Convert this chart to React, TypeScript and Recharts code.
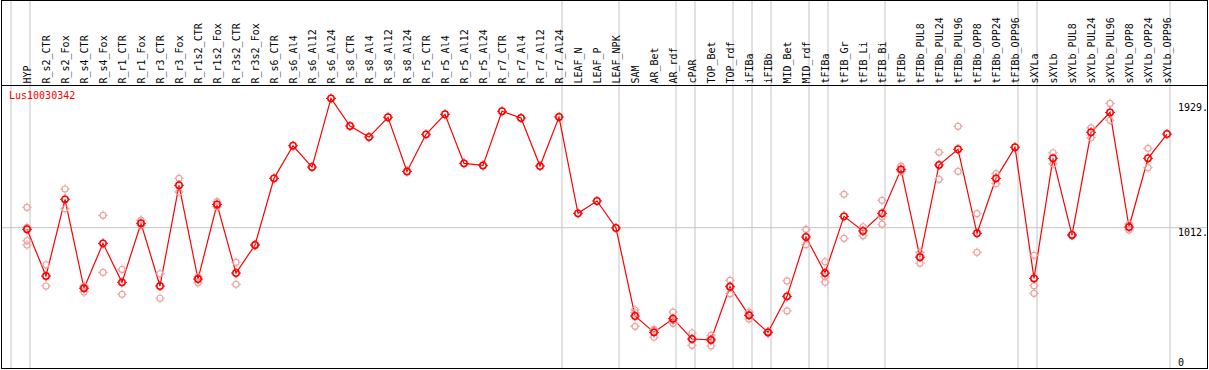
import React from 'react';
import {
  ComposedChart,
  Line,
  Scatter,
  XAxis,
  YAxis,
  ReferenceLine,
} from 'recharts';

document.body.style.margin = '0';

const title = 'Lus10030342';

const categories = [
  'HYP',
  'R_s2_CTR', 'R_s2_Fox', 'R_s4_CTR', 'R_s4_Fox', 'R_r1_CTR', 'R_r1_Fox', 'R_r3_CTR', 'R_r3_Fox',
  'R_r1s2_CTR', 'R_r1s2_Fox', 'R_r3s2_CTR', 'R_r3s2_Fox',
  'R_s6_CTR', 'R_s6_Al4', 'R_s6_Al12', 'R_s6_Al24',
  'R_s8_CTR', 'R_s8_Al4', 'R_s8_Al12', 'R_s8_Al24',
  'R_r5_CTR', 'R_r5_Al4', 'R_r5_Al12', 'R_r5_Al24',
  'R_r7_CTR', 'R_r7_Al4', 'R_r7_Al12', 'R_r7_Al24',
  'LEAF_N', 'LEAF_P', 'LEAF_NPK',
  'SAM', 'AR_Bet', 'AR_rdf',
  'cPAR',
  'TOP_Bet', 'TOP_rdf',
  'iFIBa',
  'iFIBb',
  'MID_Bet', 'MID_rdf',
  'tFIBa',
  'tFIB_Gr', 'tFIB_Li', 'tFIB_Bi',
  'tFIBb', 'tFIBb_PUL8', 'tFIBb_PUL24', 'tFIBb_PUL96', 'tFIBb_OPP8', 'tFIBb_OPP24', 'tFIBb_OPP96',
  'sXYLa',
  'sXYLb', 'sXYLb_PUL8', 'sXYLb_PUL24', 'sXYLb_PUL96', 'sXYLb_OPP8', 'sXYLb_OPP24', 'sXYLb_OPP96',
];

// last category of each sample group (a grey separator follows it)
const groupEnds = [
  'HYP', 'R_r7_Al24', 'LEAF_NPK', 'AR_rdf', 'cPAR', 'TOP_rdf', 'iFIBa', 'iFIBb',
  'MID_rdf', 'tFIBa', 'tFIB_Bi', 'tFIBb_OPP96', 'sXYLa', 'sXYLb_OPP96',
];

const meanValues = [
  1000,
  657, 1220, 567, 897, 611, 1044, 584, 1323,
  635, 1183, 679, 885,
  1374, 1613, 1457, 1961,
  1758, 1677, 1822, 1425,
  1697, 1844, 1484, 1469,
  1866, 1817, 1464, 1824,
  1117, 1208, 1010,
  364, 244, 344,
  195,
  188, 579,
  369,
  244,
  508, 944,
  679,
  1095, 988, 1117,
  1440, 795, 1472, 1587, 971, 1374, 1602,
  640,
  1521, 958, 1712, 1858, 1017, 1521, 1699,
];

const replicates: number[][] = [
  [1161, 1015, 916, 885],
  [740, 584], [1296, 1151], [584, 575, 540], [1103, 684], [706, 523], [1068, 1031], [674, 494], [1374, 1274],
  [652, 608], [1203, 1166], [758, 596], [890, 880],
  [], [], [], [],
  [], [], [], [],
  [], [], [], [],
  [], [], [], [],
  [], [], [],
  [408, 388, 288], [266, 258, 208], [393, 330, 310],
  [239, 149],
  [222, 198, 144], [626, 583, 528],
  [393, 372, 342],
  [250, 238],
  [621, 401], [1000, 887],
  [762, 652, 611],
  [1257, 934], [1019, 953], [1213, 1092, 1037],
  [1464, 1433, 1423], [831, 803, 751], [1565, 1367], [1756, 1425], [1115, 831], [1408, 1335], [],
  [809, 586, 530],
  [1562, 1479], [962, 954], [1745, 1672], [1924, 1800], [1039, 995], [1594, 1452], [],
];

const yTicks = [0, 1012, 1929];

const WIDTH = 1209;
const HEIGHT = 370;
const STEP = 19; // px per category
const LINE_OFFSET = 3 / STEP;
const LABEL_X = 1178;
const MONO = '"DejaVu Sans Mono", monospace';
const RED = '#ff0000';
const PINK = '#eda3a3';
const GRID = '#c4c4c4';

const rows = categories.map((name, i) => ({ idx: i, name, mean: meanValues[i] }));
const repPoints = replicates.flatMap((vals, i) => vals.map((v) => ({ idx: i, v })));
const separators = [-1, ...groupEnds.map((n) => categories.indexOf(n))].map((i) => i + LINE_OFFSET);

function Gear({ cx, cy, color, r, w }: { cx: number; cy: number; color: string; r: number; w: number }) {
  if (cx == null || cy == null || Number.isNaN(cy)) return <g />;
  const t = r + 1.8;
  const d = `M${cx} ${cy - t}V${cy - r}M${cx} ${cy + r}V${cy + t}M${cx - t} ${cy}H${cx - r}M${cx + r} ${cy}H${cx + t}`;
  return (
    <g>
      <circle cx={cx} cy={cy} r={r} fill="none" stroke={color} strokeWidth={w} />
      <path d={d} stroke={color} strokeWidth={1} />
    </g>
  );
}

const XTick = (p: any) => {
  const name = categories[p.payload.value];
  const y = 83.5;
  return (
    <text
      x={p.x}
      y={y}
      dy="0.35em"
      transform={`rotate(-90, ${p.x}, ${y})`}
      fontSize={10}
      fontFamily={MONO}
      fill="#000"
      textAnchor="start"
    >
      {name}
    </text>
  );
};

const YTick = (p: any) => {
  const v = p.payload.value;
  const y = Math.min(p.y + 8, 366);
  return (
    <text x={LABEL_X} y={y} fontSize={10} fontFamily={MONO} fill="#000">
      {v === 0 ? '0' : `${v}.`}
    </text>
  );
};

export default function App() {
  return (
    <div style={{ position: 'relative', width: WIDTH, height: HEIGHT, background: '#fff' }}>
      <ComposedChart
        width={WIDTH}
        height={HEIGHT}
        data={rows}
        margin={{ top: 0, right: 0, bottom: 1, left: 8 }}
      >
        <XAxis
          xAxisId={0}
          dataKey="idx"
          type="number"
          orientation="top"
          height={85}
          domain={[-1, 61]}
          allowDataOverflow
          ticks={categories.map((_, i) => i)}
          interval={0}
          axisLine={false}
          tickLine={false}
          tick={<XTick />}
        />
        <YAxis
          yAxisId={0}
          orientation="right"
          width={23}
          type="number"
          domain={[-25, 2059]}
          allowDataOverflow
          ticks={yTicks}
          interval={0}
          axisLine={false}
          tickLine={false}
          tick={<YTick />}
        />
        {separators.map((x) => (
          <ReferenceLine
            key={x}
            x={x}
            ifOverflow="visible"
            shape={(p: any) => (
              <line x1={p.x1} x2={p.x2} y1={0} y2={HEIGHT - 1} stroke={GRID} strokeWidth={1} />
            )}
          />
        ))}
        <ReferenceLine
          y={1012}
          ifOverflow="visible"
          shape={(p: any) => (
            <line x1={1} x2={WIDTH - 1} y1={p.y1} y2={p.y2} stroke={GRID} strokeWidth={1} />
          )}
        />
        <Scatter
          data={repPoints}
          dataKey="v"
          isAnimationActive={false}
          shape={(p: any) => <Gear cx={p.cx} cy={p.cy} color={PINK} r={3} w={1.2} />}
        />
        <Line
          dataKey="mean"
          stroke={RED}
          strokeWidth={1.2}
          isAnimationActive={false}
          activeDot={false}
          dot={(p: any) => <Gear key={p.index} cx={p.cx} cy={p.cy} color={RED} r={3.2} w={1.5} />}
        />
      </ComposedChart>
      <div
        style={{
          position: 'absolute',
          left: 1,
          top: 0,
          width: WIDTH - 4,
          height: HEIGHT - 3,
          border: '1px solid #000',
          pointerEvents: 'none',
        }}
      />
      <div
        style={{
          position: 'absolute',
          left: 1,
          top: 85,
          width: WIDTH - 2,
          height: 1,
          background: '#000',
        }}
      />
      <div
        style={{
          position: 'absolute',
          left: 9,
          top: 91,
          fontSize: 10,
          lineHeight: '10px',
          fontFamily: MONO,
          color: RED,
        }}
      >
        {title}
      </div>
    </div>
  );
}
